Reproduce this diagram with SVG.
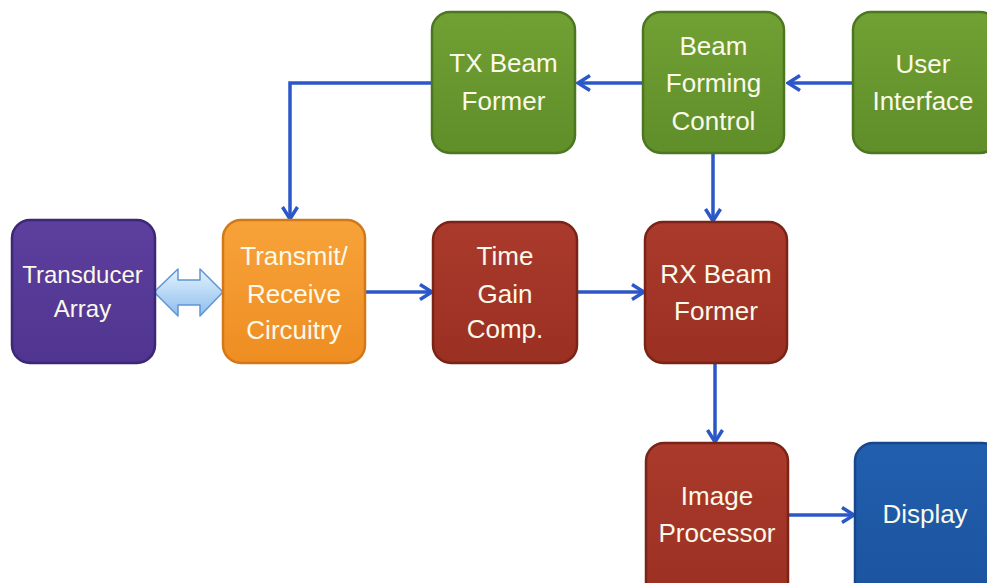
<svg xmlns="http://www.w3.org/2000/svg" width="987" height="583" viewBox="0 0 987 583">
  <defs>
    <marker id="arrow" viewBox="0 0 16 18" refX="14" refY="9" markerWidth="16" markerHeight="18" markerUnits="userSpaceOnUse" orient="auto">
      <path d="M2,1.5 L14,9 L2,16.5" fill="none" stroke="#2b57c8" stroke-width="3.5" stroke-linejoin="miter"/>
    </marker>
    <linearGradient id="gGreen" x1="0" y1="0" x2="0" y2="1">
      <stop offset="0" stop-color="#71a034"/>
      <stop offset="1" stop-color="#5f8e2a"/>
    </linearGradient>
    <linearGradient id="gPurple" x1="0" y1="0" x2="0" y2="1">
      <stop offset="0" stop-color="#5d3f9e"/>
      <stop offset="1" stop-color="#503590"/>
    </linearGradient>
    <linearGradient id="gOrange" x1="0" y1="0" x2="0" y2="1">
      <stop offset="0" stop-color="#f7a33a"/>
      <stop offset="1" stop-color="#ee8d22"/>
    </linearGradient>
    <linearGradient id="gRed" x1="0" y1="0" x2="0" y2="1">
      <stop offset="0" stop-color="#aa3a2c"/>
      <stop offset="1" stop-color="#9a3022"/>
    </linearGradient>
    <linearGradient id="gBlue" x1="0" y1="0" x2="0" y2="1">
      <stop offset="0" stop-color="#215fae"/>
      <stop offset="1" stop-color="#1b539e"/>
    </linearGradient>
    <linearGradient id="gDouble" x1="0" y1="0" x2="0" y2="1">
      <stop offset="0" stop-color="#e6f2fd"/>
      <stop offset="0.5" stop-color="#b8d8f6"/>
      <stop offset="1" stop-color="#8fbdea"/>
    </linearGradient>
  </defs>
  <style>
    .node rect { stroke-width: 2.5; }
    .green rect { fill: url(#gGreen); stroke: #4d7620; }
    .purple rect { fill: url(#gPurple); stroke: #3d2777; }
    .orange rect { fill: url(#gOrange); stroke: #d37818; }
    .red rect { fill: url(#gRed); stroke: #7a2418; }
    .blue rect { fill: url(#gBlue); stroke: #17478a; }
    .node text { font-family: "Liberation Sans", Arial, sans-serif; font-size: 26px; fill: #fbf9ea; text-anchor: middle; }
    .node text.small { font-size: 24px; }
    .conn { fill: none; stroke: #2b57c8; stroke-width: 3.5; marker-end: url(#arrow); }
  </style>
  <rect width="987" height="583" fill="#ffffff"/>

  <!-- connectors -->
  <g id="connectors">
    <path class="conn" d="M643,83 L578,83"/>
    <path class="conn" d="M853,83 L788,83"/>
    <path class="conn" d="M432,83 L290,83 L290,219"/>
    <path class="conn" d="M713,153 L713,221"/>
    <path class="conn" d="M365,292 L432,292"/>
    <path class="conn" d="M577,292 L644,292"/>
    <path class="conn" d="M715,363 L715,442"/>
    <path class="conn" d="M788,515 L854,515"/>
    <path id="bidir" d="M154,292 L178,269 L178,280 L200,280 L200,269 L223,292 L200,316 L200,305 L178,305 L178,316 Z" fill="url(#gDouble)" stroke="#5f95d6" stroke-width="1.5" stroke-linejoin="round"/>
  </g>

  <g id="tx-beam-former" class="node green">
    <rect x="432" y="12" width="143" height="141" rx="18"/>
    <text x="503.5" y="72">TX Beam</text>
    <text x="503.5" y="110">Former</text>
  </g>
  <g id="beam-forming-control" class="node green">
    <rect x="643" y="12" width="141" height="141" rx="18"/>
    <text x="713.5" y="55">Beam</text>
    <text x="713.5" y="92">Forming</text>
    <text x="713.5" y="130">Control</text>
  </g>
  <g id="user-interface" class="node green">
    <rect x="853" y="12" width="145" height="141" rx="18"/>
    <text x="923" y="73">User</text>
    <text x="923" y="110">Interface</text>
  </g>
  <g id="transducer-array" class="node purple">
    <rect x="12" y="220" width="143" height="143" rx="18"/>
    <text class="small" x="82.5" y="283">Transducer</text>
    <text class="small" x="82.5" y="317">Array</text>
  </g>
  <g id="transmit-receive" class="node orange">
    <rect x="223" y="220" width="142" height="143" rx="18"/>
    <text x="294" y="265">Transmit/</text>
    <text x="294" y="303">Receive</text>
    <text x="294" y="339">Circuitry</text>
  </g>
  <g id="time-gain-comp" class="node red">
    <rect x="433" y="222" width="144" height="141" rx="18"/>
    <text x="505" y="265">Time</text>
    <text x="505" y="303">Gain</text>
    <text x="505" y="338">Comp.</text>
  </g>
  <g id="rx-beam-former" class="node red">
    <rect x="645" y="222" width="142" height="141" rx="18"/>
    <text x="716" y="283">RX Beam</text>
    <text x="716" y="320">Former</text>
  </g>
  <g id="image-processor" class="node red">
    <rect x="646" y="443" width="142" height="160" rx="18"/>
    <text x="717" y="505">Image</text>
    <text x="717" y="542">Processor</text>
  </g>
  <g id="display" class="node blue">
    <rect x="855" y="443" width="145" height="160" rx="18"/>
    <text x="925" y="523">Display</text>
  </g>
</svg>
